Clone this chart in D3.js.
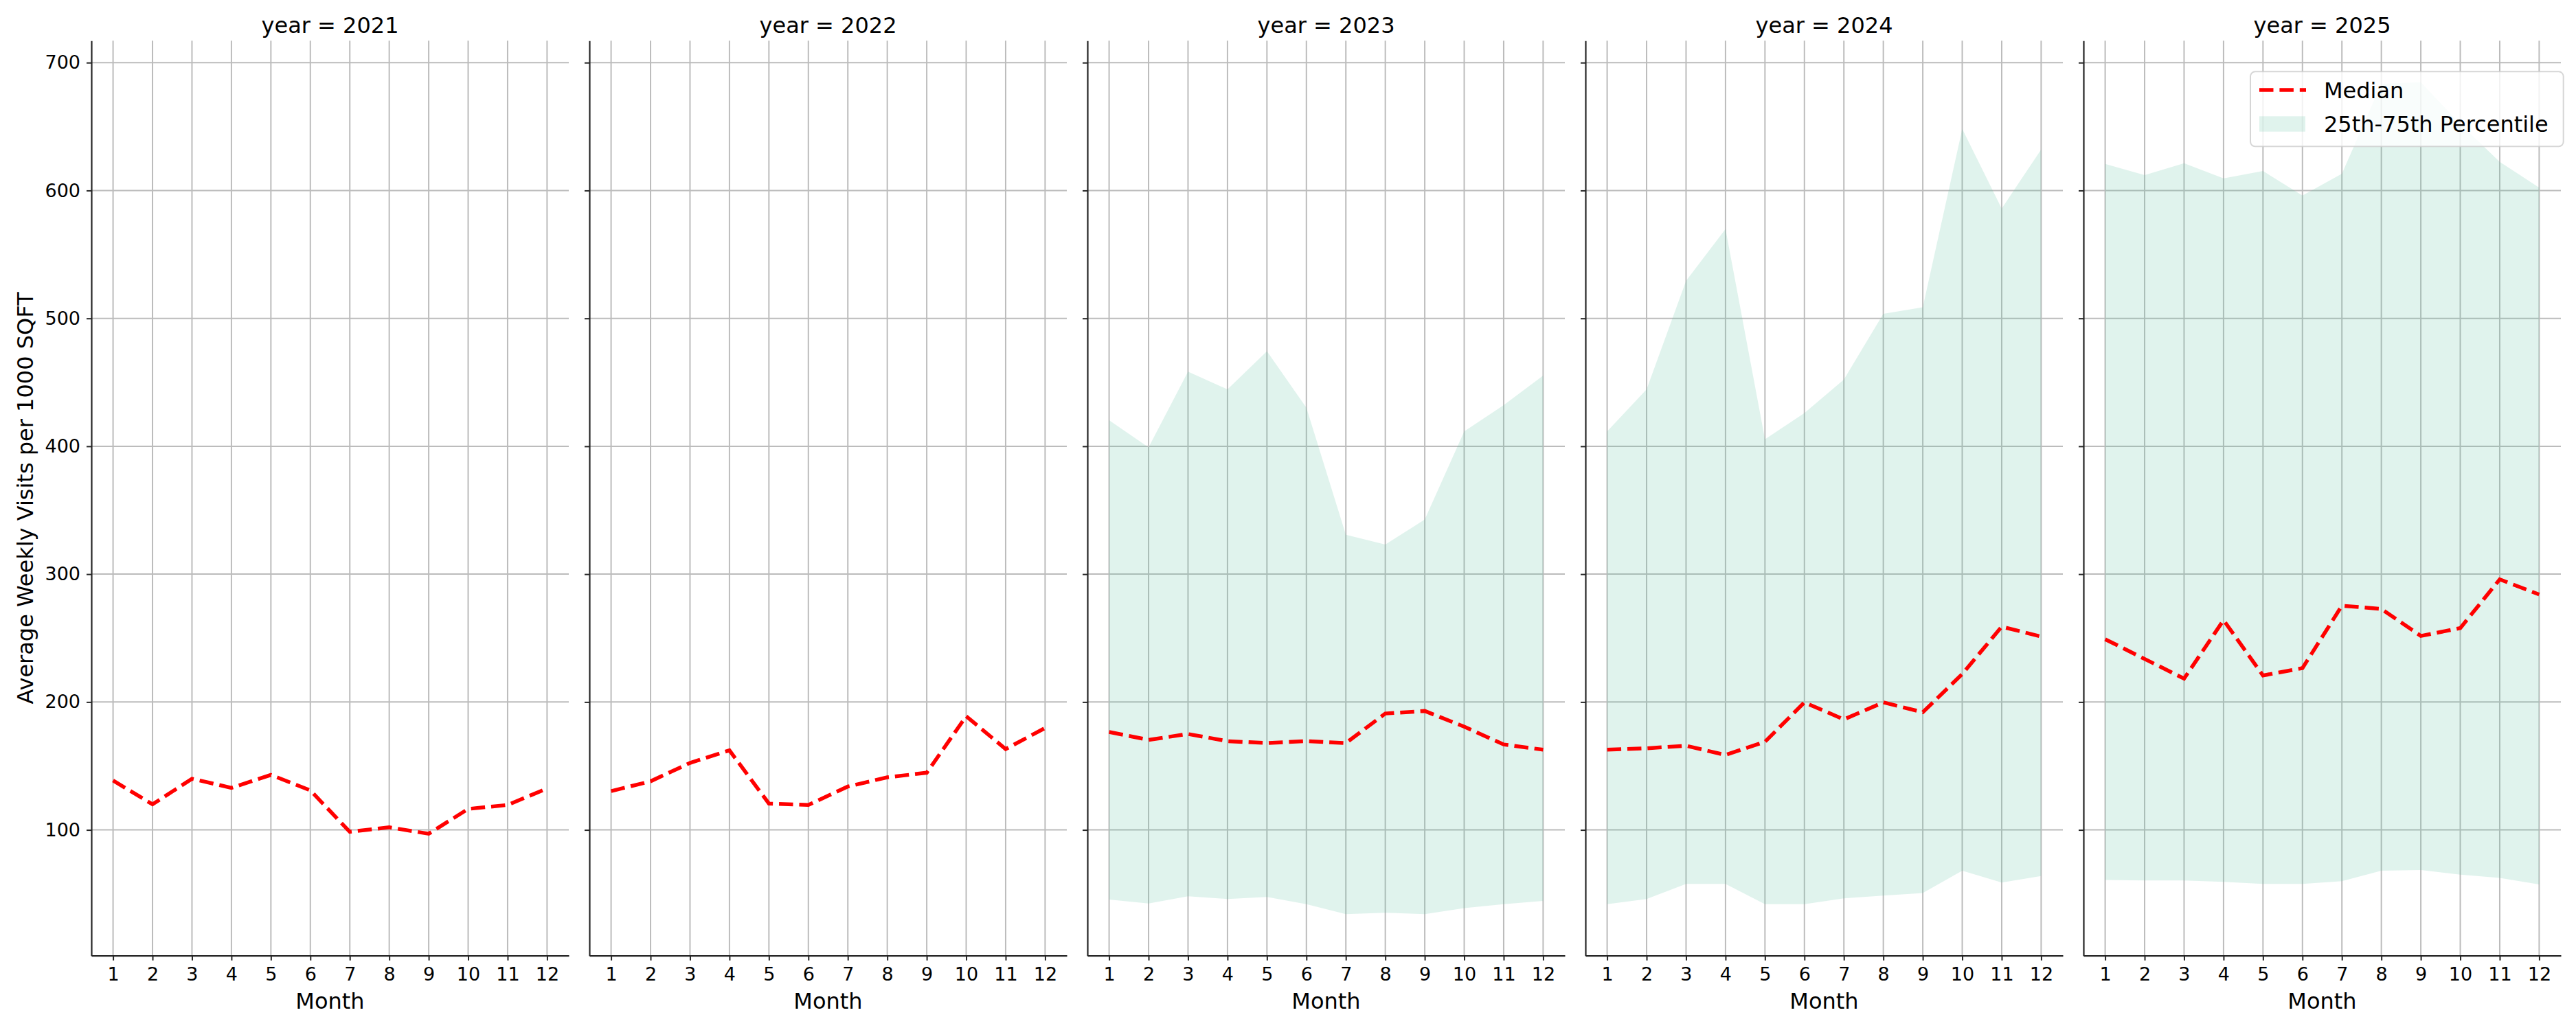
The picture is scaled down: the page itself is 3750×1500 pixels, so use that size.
<!DOCTYPE html>
<html>
<head>
<meta charset="utf-8">
<script src="https://cdn.jsdelivr.net/npm/d3@7.9.0/dist/d3.min.js"></script>
<style>
  html, body { margin: 0; padding: 0; background: #fff; }
  svg { display: block; font-family: "DejaVu Sans", sans-serif; }
</style>
</head>
<body>
<svg id="chart" width="3750" height="1500"></svg>
<script>
// data
const years = [2021, 2022, 2023, 2024, 2025];
const months = [1, 2, 3, 4, 5, 6, 7, 8, 9, 10, 11, 12];
const yTicks = [100, 200, 300, 400, 500, 600, 700];

const median2021 = [138.6, 120.0, 140.0, 132.9, 143.0, 130.9, 98.5, 102.0, 97.0, 116.4, 119.5, 132.4];
const median2022 = [130.3, 138.0, 152.4, 162.2, 120.6, 119.5, 133.9, 141.1, 144.7, 188.9, 163.2, 179.7];
const median2023 = [176.6, 170.4, 175.0, 169.4, 167.9, 169.4, 167.9, 191.0, 193.0, 180.7, 166.8, 162.7];
const median2024 = [162.7, 163.8, 165.8, 158.6, 168.9, 199.7, 186.4, 199.7, 192.0, 221.9, 258.9, 251.2];
const median2025 = [249.1, 233.7, 218.3, 264.0, 220.8, 226.5, 275.3, 272.8, 251.7, 257.8, 295.9, 284.1];

const p25_2023 = [45.5, 42.4, 48.1, 46.0, 47.6, 41.9, 34.2, 35.2, 34.2, 38.8, 41.9, 44.5];
const p75_2023 = [420.3, 399.2, 458.4, 444.5, 474.3, 430.1, 330.8, 323.1, 342.7, 411.6, 432.1, 455.3];
const p25_2024 = [41.9, 46.0, 57.8, 57.8, 41.9, 41.9, 46.5, 48.6, 50.6, 68.1, 58.8, 63.9];
const p75_2024 = [411.6, 444.5, 529.3, 569.9, 405.4, 426.0, 452.2, 503.6, 508.7, 648.1, 585.9, 632.1];
const p25_2025 = [60.9, 60.4, 60.4, 59.4, 57.8, 57.8, 59.9, 68.1, 68.6, 65.0, 62.5, 57.4];
const p75_2025 = [620.8, 612.1, 621.3, 609.5, 615.2, 596.1, 613.1, 683.5, 684.6, 652.0, 622.4, 602.3];

const medians = [median2021, median2022, median2023, median2024, median2025];
const lowers = [null, null, p25_2023, p25_2024, p25_2025];
const uppers = [null, null, p75_2023, p75_2024, p75_2025];

// layout
const panelLeft0 = 133, panelStep = 725, panelW = 695;
const plotTop = 59.3, plotBottom = 1391.7;
const tickFont = 27, labelFont = 32;
const gridColor = '#bcbcbc', spineColor = '#262626';
const bandColor = '#66c2a5';

const svg = d3.select('#chart');

// shared y scale, padded like matplotlib's 5% margins
const allVals = medians.flat().concat(lowers.filter(Boolean).flat(), uppers.filter(Boolean).flat());
const [vMin, vMax] = d3.extent(allVals);
const pad = (vMax - vMin) * 0.05;
const y = d3.scaleLinear().domain([vMin - pad, vMax + pad]).range([plotBottom, plotTop]);

years.forEach((year, i) => {
    const left = panelLeft0 + i * panelStep;
    const x = d3.scaleLinear().domain([0.45, 12.55]).range([left, left + panelW]);
    const g = svg.append('g');

    // grid
    g.append('g').selectAll('line').data(months).join('line')
        .attr('x1', d => x(d)).attr('x2', d => x(d))
        .attr('y1', plotTop).attr('y2', plotBottom)
        .attr('stroke', gridColor).attr('stroke-width', 2);
    g.append('g').selectAll('line').data(yTicks).join('line')
        .attr('x1', left).attr('x2', left + panelW)
        .attr('y1', d => y(d)).attr('y2', d => y(d))
        .attr('stroke', gridColor).attr('stroke-width', 2);

    // 25th-75th band
    if (lowers[i]) {
        const area = d3.area()
            .x((d, j) => x(months[j]))
            .y0((d, j) => y(lowers[i][j]))
            .y1(d => y(d));
        g.append('path')
            .datum(uppers[i])
            .attr('d', area)
            .attr('fill', bandColor)
            .attr('fill-opacity', 0.2);
    }

    // median line
    const line = d3.line().x((d, j) => x(months[j])).y(d => y(d));
    g.append('path')
        .datum(medians[i])
        .attr('d', line)
        .attr('fill', 'none')
        .attr('stroke', 'red')
        .attr('stroke-width', 5.5)
        .attr('stroke-dasharray', '20.5,8.9');

    // axes
    const xAxis = g.append('g')
        .attr('transform', `translate(0,${plotBottom})`)
        .call(d3.axisBottom(x).tickValues(months).tickFormat(d3.format('d'))
            .tickSize(7).tickSizeOuter(0).tickPadding(10));
    const yAxis = g.append('g')
        .attr('transform', `translate(${left},0)`)
        .call(d3.axisLeft(y).tickValues(yTicks)
            .tickFormat(i === 0 ? d3.format('d') : '')
            .tickSize(7).tickSizeOuter(0).tickPadding(9));

    [xAxis, yAxis].forEach(a => {
        a.select('.domain').attr('stroke', spineColor).attr('stroke-width', 2.2);
        a.selectAll('.tick line').attr('stroke', spineColor).attr('stroke-width', 2);
        a.selectAll('.tick text')
            .attr('fill', '#000')
            .style('font-size', tickFont + 'px')
            .style('font-family', '"DejaVu Sans", sans-serif');
    });

    // title and x label
    g.append('text')
        .attr('x', left + panelW / 2).attr('y', 48.3)
        .attr('text-anchor', 'middle')
        .style('font-size', labelFont + 'px')
        .text(`year = ${year}`);
    g.append('text')
        .attr('x', left + panelW / 2).attr('y', 1469.3)
        .attr('text-anchor', 'middle')
        .style('font-size', labelFont + 'px')
        .text('Month');
});

// y label
svg.append('text')
    .attr('transform', `translate(48,${(plotTop + plotBottom) / 2}) rotate(-90)`)
    .attr('text-anchor', 'middle')
    .style('font-size', labelFont + 'px')
    .text('Average Weekly Visits per 1000 SQFT');

// legend
const lg = svg.append('g');
lg.append('rect')
    .attr('x', 3276).attr('y', 104.3).attr('width', 455.7).attr('height', 109)
    .attr('rx', 7)
    .attr('fill', '#fff').attr('fill-opacity', 0.8)
    .attr('stroke', '#cccccc').attr('stroke-opacity', 0.8).attr('stroke-width', 2);
lg.append('line')
    .attr('x1', 3289).attr('x2', 3357).attr('y1', 131).attr('y2', 131)
    .attr('stroke', 'red').attr('stroke-width', 5.5)
    .attr('stroke-dasharray', '20.5,8.9');
lg.append('rect')
    .attr('x', 3289).attr('y', 169.3).attr('width', 67).attr('height', 22.4)
    .attr('fill', bandColor).attr('fill-opacity', 0.2);
lg.append('text').attr('x', 3383).attr('y', 142.7)
    .style('font-size', labelFont + 'px').text('Median');
lg.append('text').attr('x', 3383).attr('y', 191.7)
    .style('font-size', labelFont + 'px').text('25th-75th Percentile');
</script>
</body>
</html>
